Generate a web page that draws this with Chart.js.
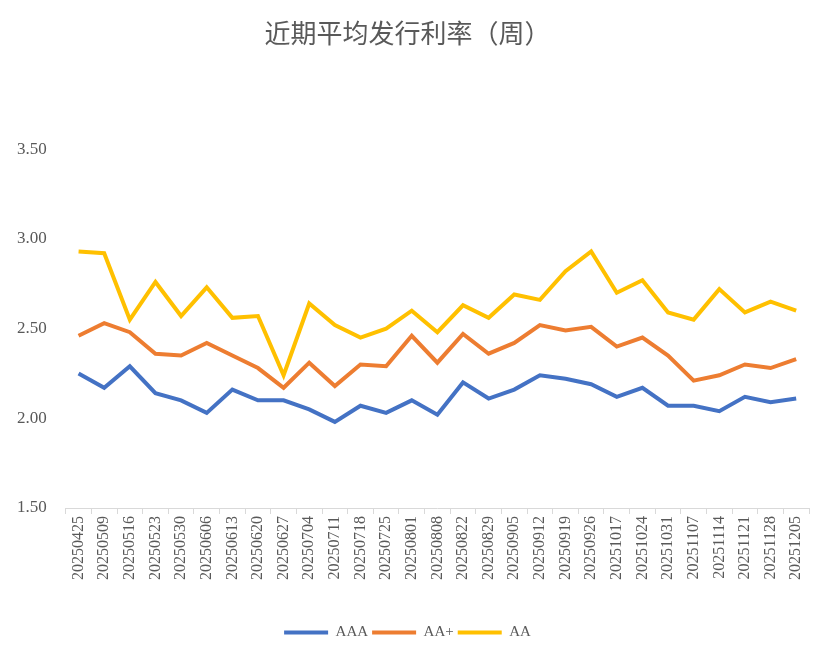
<!DOCTYPE html>
<html>
<head>
<meta charset="utf-8">
<script src="https://cdn.jsdelivr.net/npm/chart.js@4"></script>
<style>
  html, body { margin: 0; padding: 0; background: #fff; }
  #wrap { width: 831px; height: 658px; }
</style>
</head>
<body>
<div id="wrap"><canvas id="rateChart" width="831" height="658"></canvas></div>
<script>
// Weekly dates
const dates = ['20250425', '20250509', '20250516', '20250523', '20250530', '20250606', '20250613',
    '20250620', '20250627', '20250704', '20250711', '20250718', '20250725', '20250801', '20250808',
    '20250822', '20250829', '20250905', '20250912', '20250919', '20250926', '20251017', '20251024',
    '20251031', '20251107', '20251114', '20251121', '20251128', '20251205'];

// Average issuing rate by rating
const aaa = [2.25, 2.17, 2.29, 2.14, 2.10, 2.03, 2.16, 2.10, 2.10, 2.05, 1.98, 2.07, 2.03, 2.10, 2.02,
    2.20, 2.11, 2.16, 2.24, 2.22, 2.19, 2.12, 2.17, 2.07, 2.07, 2.04, 2.12, 2.09, 2.11];
const aaPlus = [2.46, 2.53, 2.48, 2.36, 2.35, 2.42, 2.35, 2.28, 2.17, 2.31, 2.18, 2.30, 2.29, 2.46, 2.31,
    2.47, 2.36, 2.42, 2.52, 2.49, 2.51, 2.40, 2.45, 2.35, 2.21, 2.24, 2.30, 2.28, 2.33];
const aa = [2.93, 2.92, 2.55, 2.76, 2.57, 2.73, 2.56, 2.57, 2.24, 2.64, 2.52, 2.45, 2.50, 2.60, 2.48,
    2.63, 2.56, 2.69, 2.66, 2.82, 2.93, 2.70, 2.77, 2.59, 2.55, 2.72, 2.59, 2.65, 2.60];

const yTicks = [1.5, 2.0, 2.5, 3.0, 3.5];

const serif = "'Liberation Serif', 'DejaVu Serif', serif";
const grey = '#595959';

function series(label, data, color) {
    return {
        label: label,
        data: data,
        borderColor: color,
        backgroundColor: color,
        borderWidth: 4,
        pointRadius: 0,
        tension: 0,
        fill: false
    };
}

document.addEventListener('DOMContentLoaded', function() {
    const ctx = document.getElementById('rateChart').getContext('2d');
    new Chart(ctx, {
        type: 'line',
        data: {
            labels: dates,
            datasets: [
                series('AAA', aaa, '#4472C4'),
                series('AA+', aaPlus, '#ED7D31'),
                series('AA', aa, '#FFC000')
            ]
        },
        options: {
            responsive: false,
            animation: false,
            layout: { padding: { left: 6, right: 22, top: 0, bottom: 8 } },
            plugins: {
                title: {
                    display: true,
                    text: '近期平均发行利率（周）',
                    color: grey,
                    font: { family: "'Noto Sans CJK SC', sans-serif", size: 26, weight: 'normal' },
                    padding: { top: 18, bottom: 100 }
                },
                legend: {
                    position: 'bottom',
                    labels: {
                        color: grey,
                        font: { family: serif, size: 15 },
                        boxWidth: 44,
                        boxHeight: 4,
                        padding: 4,
                        generateLabels: function(chart) {
                            const items = Chart.defaults.plugins.legend.labels.generateLabels(chart);
                            items.forEach(function(it) { it.lineWidth = 0; });
                            return items;
                        }
                    }
                },
                tooltip: { enabled: false }
            },
            scales: {
                x: {
                    offset: true,
                    afterFit: function(axis) { axis.height += 39; },
                    grid: {
                        offset: true,
                        drawOnChartArea: false,
                        drawTicks: true,
                        tickLength: 6,
                        color: '#d9d9d9'
                    },
                    border: { display: true, color: '#d9d9d9', width: 1 },
                    ticks: {
                        autoSkip: false,
                        minRotation: 90,
                        maxRotation: 90,
                        color: grey,
                        padding: 2,
                        font: { family: serif, size: 16 }
                    }
                },
                y: {
                    min: 1.5,
                    max: 3.5,
                    afterBuildTicks: function(axis) {
                        axis.ticks = yTicks.map(function(v) { return { value: v }; });
                    },
                    grid: { display: false },
                    border: { display: false },
                    ticks: {
                        color: grey,
                        padding: 11,
                        font: { family: serif, size: 17 },
                        callback: function(v) { return Number(v).toFixed(2); }
                    }
                }
            }
        }
    });
});
</script>
</body>
</html>
